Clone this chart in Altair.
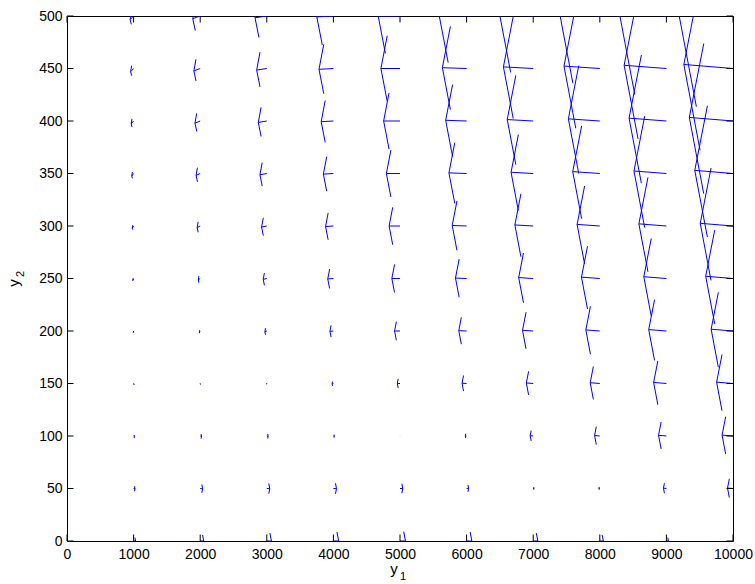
import altair as alt
import pandas as pd

# grid of the vector field (y1 along x, y2 along y)
Y1_GRID = [0, 1000, 2000, 3000, 4000, 5000, 6000, 7000, 8000, 9000, 10000]
Y2_GRID = [0, 50, 100, 150, 200, 250, 300, 350, 400, 450, 500]

# horizontal component of each drawn arrow, one row per y2 value (columns follow Y1_GRID)
U_ROWS = [
    [0, 29.7, 52.8, 69.3, 79.2, 82.5, 79.2, 69.3, 52.8, 29.7, 0],
    [0, 21.5, 36.4, 44.7, 46.4, 41.5, 30.0, 11.9, -12.8, -44.1, -82],
    [0, 13.3, 20.0, 20.1, 13.6, 0.5, -19.2, -45.5, -78.4, -117.9, -164],
    [0, 5.1, 3.6, -4.5, -19.2, -40.5, -68.4, -102.9, -144, -191.7, -246],
    [0, -3.1, -12.8, -29.1, -52, -81.5, -117.6, -160.3, -209.6, -265.5, -328],
    [0, -11.3, -29.2, -53.7, -84.8, -122.5, -166.8, -217.7, -275.2, -339.3, -410],
    [0, -19.5, -45.6, -78.3, -117.6, -163.5, -216, -275.1, -340.8, -413.1, -492],
    [0, -27.7, -62, -102.9, -150.4, -204.5, -265.2, -332.5, -406.4, -486.9, -574],
    [0, -35.9, -78.4, -127.5, -183.2, -245.5, -314.4, -389.9, -472, -560.7, -656],
    [0, -44.1, -94.8, -152.1, -216, -286.5, -363.6, -447.3, -537.6, -634.5, -738],
    [0, -52.3, -111.2, -176.7, -248.8, -327.5, -412.8, -504.7, -603.2, -708.3, -820],
]

# vertical component of each drawn arrow
V_ROWS = [
    [0, 0, 0, 0, 0, 0, 0, 0, 0, 0, 0],
    [-0.43, -0.34, -0.26, -0.17, -0.09, 0, 0.09, 0.17, 0.26, 0.34, 0.43],
    [-0.85, -0.68, -0.51, -0.34, -0.17, 0, 0.17, 0.34, 0.51, 0.68, 0.85],
    [-1.28, -1.02, -0.77, -0.51, -0.26, 0, 0.26, 0.51, 0.77, 1.02, 1.28],
    [-1.7, -1.36, -1.02, -0.68, -0.34, 0, 0.34, 0.68, 1.02, 1.36, 1.7],
    [-2.13, -1.7, -1.28, -0.85, -0.43, 0, 0.43, 0.85, 1.28, 1.7, 2.13],
    [-2.55, -2.04, -1.53, -1.02, -0.51, 0, 0.51, 1.02, 1.53, 2.04, 2.55],
    [-2.98, -2.38, -1.79, -1.19, -0.6, 0, 0.6, 1.19, 1.79, 2.38, 2.98],
    [-3.4, -2.72, -2.04, -1.36, -0.68, 0, 0.68, 1.36, 2.04, 2.72, 3.4],
    [-3.83, -3.06, -2.3, -1.53, -0.77, 0, 0.77, 1.53, 2.3, 3.06, 3.83],
    [-4.25, -3.4, -2.55, -1.7, -0.85, 0, 0.85, 1.7, 2.55, 3.4, 4.25],
]

X_TICKS = [0, 1000, 2000, 3000, 4000, 5000, 6000, 7000, 8000, 9000, 10000]
Y_TICKS = [0, 50, 100, 150, 200, 250, 300, 350, 400, 450, 500]

X_TITLE = ["y", "1"]   # y with subscript 1
Y_TITLE = ["y", "2"]   # y with subscript 2

# arrowhead geometry of a classic quiver plot
HEAD_LEN = 0.33
HEAD_WIDTH = 0.33

segs = []
for j, yv in enumerate(Y2_GRID):
    for i, xv in enumerate(Y1_GRID):
        u = U_ROWS[j][i]
        v = V_ROWS[j][i]
        if u == 0 and v == 0:
            continue
        tx, ty = xv + u, yv + v
        segs.append(dict(x=xv, y=yv, x2=tx, y2=ty))
        segs.append(dict(x=tx, y=ty,
                         x2=tx - HEAD_LEN * (u + HEAD_WIDTH * v),
                         y2=ty - HEAD_LEN * (v - HEAD_WIDTH * u)))
        segs.append(dict(x=tx, y=ty,
                         x2=tx - HEAD_LEN * (u - HEAD_WIDTH * v),
                         y2=ty - HEAD_LEN * (v + HEAD_WIDTH * u)))
seg_df = pd.DataFrame(segs)

W, H = 666, 525
FONT = "Liberation Sans"
TICK = 6.5

xscale = alt.Scale(domain=[0, 10000], nice=False, zero=False)
yscale = alt.Scale(domain=[0, 500], nice=False, zero=False)

xaxis = alt.Axis(values=X_TICKS, title=None, grid=False, ticks=False, tickSize=0,
                 domain=False, labelPadding=6, labelFontSize=14, labelFont=FONT,
                 labelColor="black", format="d", labelOverlap=False, labelFlush=False)
yaxis = alt.Axis(values=Y_TICKS, title=None, grid=False, ticks=False, tickSize=0,
                 domain=False, labelPadding=5, labelFontSize=14, labelFont=FONT,
                 labelColor="black", format="d", labelOverlap=False, labelFlush=False)

arrows = alt.Chart(seg_df).mark_rule(color="#0000ff", strokeWidth=1, clip=True).encode(
    x=alt.X("x:Q", scale=xscale, axis=xaxis),
    y=alt.Y("y:Q", scale=yscale, axis=yaxis),
    x2="x2:Q",
    y2="y2:Q",
)

xt = pd.DataFrame({"x": X_TICKS})
yt = pd.DataFrame({"y": Y_TICKS})

bottom_ticks = alt.Chart(xt).mark_rule(color="black", strokeWidth=1).encode(
    x=alt.X("x:Q", scale=xscale, axis=xaxis),
    y=alt.value(H), y2=alt.value(H - TICK))
top_ticks = alt.Chart(xt).mark_rule(color="black", strokeWidth=1).encode(
    x=alt.X("x:Q", scale=xscale, axis=xaxis),
    y=alt.value(0), y2=alt.value(TICK))
left_ticks = alt.Chart(yt).mark_rule(color="black", strokeWidth=1).encode(
    y=alt.Y("y:Q", scale=yscale, axis=yaxis),
    x=alt.value(0), x2=alt.value(TICK))
right_ticks = alt.Chart(yt).mark_rule(color="black", strokeWidth=1).encode(
    y=alt.Y("y:Q", scale=yscale, axis=yaxis),
    x=alt.value(W), x2=alt.value(W - TICK))

# axis titles: a "y" with a lowered, smaller index
xt_main = alt.Chart(pd.DataFrame({"t": [X_TITLE[0]]})).mark_text(
    font=FONT, fontSize=15, color="black", align="center", baseline="alphabetic"
).encode(text="t:N", x=alt.value(327), y=alt.value(H + 33))
xt_sub = alt.Chart(pd.DataFrame({"t": [X_TITLE[1]]})).mark_text(
    font=FONT, fontSize=11, color="black", align="center", baseline="alphabetic"
).encode(text="t:N", x=alt.value(336), y=alt.value(H + 39))

yt_main = alt.Chart(pd.DataFrame({"t": [Y_TITLE[0]]})).mark_text(
    font=FONT, fontSize=15, color="black", align="center", baseline="alphabetic", angle=270
).encode(text="t:N", x=alt.value(-48), y=alt.value(267))
yt_sub = alt.Chart(pd.DataFrame({"t": [Y_TITLE[1]]})).mark_text(
    font=FONT, fontSize=11, color="black", align="center", baseline="alphabetic", angle=270
).encode(text="t:N", x=alt.value(-43), y=alt.value(258))

chart = alt.layer(arrows, bottom_ticks, top_ticks, left_ticks, right_ticks,
                  xt_main, xt_sub, yt_main, yt_sub).properties(
    width=W, height=H,
    autosize=alt.AutoSizeParams(type="none"),
    padding={"left": 67, "top": 16, "right": 22, "bottom": 43},
    background="white",
).configure_view(stroke="black", strokeWidth=1)

chart.save("out.html", embed_options={"renderer": "svg", "actions": False})
